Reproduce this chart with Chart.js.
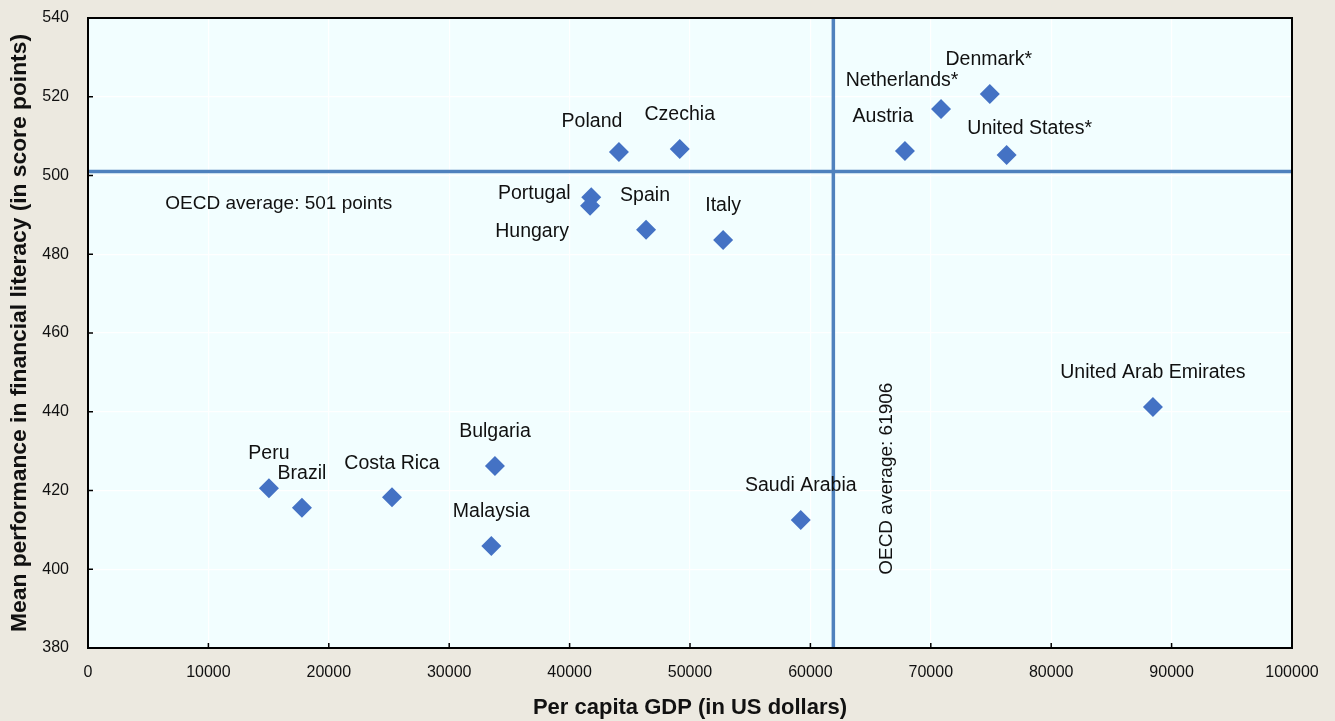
<!DOCTYPE html>
<html>
<head>
<meta charset="utf-8">
<script src="https://cdn.jsdelivr.net/npm/chart.js@4/dist/chart.umd.min.js"></script>
<style>
  html, body { margin: 0; padding: 0; background: #ECE9E0; }
  #wrap { width: 1335px; height: 721px; }
</style>
</head>
<body>
<div id="wrap"><canvas id="chart"></canvas></div>
<script>
// data
const countries = ['Peru', 'Brazil', 'Costa Rica', 'Bulgaria', 'Malaysia', 'Saudi Arabia', 'United Arab Emirates',
    'Poland', 'Czechia', 'Portugal', 'Hungary', 'Spain', 'Italy', 'Austria', 'Netherlands*', 'Denmark*', 'United States*'];
const gdp = [15030, 17770, 25250, 33800, 33500, 59200, 88450,
    44100, 49150, 41800, 41700, 46350, 52750, 67850, 70850, 74900, 76300];
const scores = [420.6, 415.6, 418.3, 426.2, 405.9, 412.5, 441.2,
    506.0, 506.7, 494.5, 492.3, 486.2, 483.6, 506.2, 516.9, 520.7, 505.2];
const oecdAvgGdp = 61906;
const oecdAvgScore = 501;
const xTicks = [0, 10000, 20000, 30000, 40000, 50000, 60000, 70000, 80000, 90000, 100000];
const yTicks = [380, 400, 420, 440, 460, 480, 500, 520, 540];

// label offsets in pixels from each marker (same order as countries)
const labelOffsets = [
    [0, -35], [0, -34], [0, -34], [0, -34], [0, -34], [0, -34], [0, -34],
    [-27, -30], [0, -34], [-57, -4], [-58, 26], [-1, -34], [0, -34],
    [-22, -34], [-39, -28], [-1, -34], [23, -26]
];

const FONT = '"Liberation Sans", Arial, sans-serif';
const BLUE = '#4472C4';
const LINE_BLUE = '#4F81BD';

const background = {
    id: 'background',
    beforeDraw(chart) {
        const { ctx, chartArea: a } = chart;
        ctx.save();
        ctx.fillStyle = '#ECE9E0';
        ctx.fillRect(0, 0, chart.width, chart.height);
        ctx.fillStyle = '#F2FEFF';
        ctx.fillRect(a.left, a.top, a.right - a.left, a.bottom - a.top);
        ctx.restore();
    },
    afterDraw(chart) {
        const { ctx, chartArea: a } = chart;
        ctx.save();
        ctx.strokeStyle = '#000';
        ctx.lineWidth = 2;
        ctx.strokeRect(a.left, a.top, a.right - a.left, a.bottom - a.top);
        // short inward tick marks
        ctx.lineWidth = 1.5;
        ctx.beginPath();
        const xs = chart.scales.x, ys = chart.scales.y;
        xTicks.forEach(v => {
            const px = xs.getPixelForValue(v);
            ctx.moveTo(px, a.bottom); ctx.lineTo(px, a.bottom - 5);
        });
        yTicks.forEach(v => {
            const py = ys.getPixelForValue(v);
            ctx.moveTo(a.left, py); ctx.lineTo(a.left + 5, py);
        });
        ctx.stroke();
        ctx.restore();
    }
};

const pointLabels = {
    id: 'pointLabels',
    afterDatasetsDraw(chart) {
        const { ctx } = chart;
        const meta = chart.getDatasetMeta(2);
        const xs = chart.scales.x, ys = chart.scales.y;
        ctx.save();
        ctx.font = '19.5px ' + FONT;
        ctx.fillStyle = '#111';
        ctx.textAlign = 'center';
        ctx.textBaseline = 'middle';
        meta.data.forEach((pt, i) => {
            const [dx, dy] = labelOffsets[i];
            ctx.fillText(countries[i], pt.x + dx, pt.y + dy);
        });
        // OECD average annotations
        ctx.font = '19px ' + FONT;
        ctx.fillText('OECD average: ' + oecdAvgScore + ' points', xs.getPixelForValue(15850), ys.getPixelForValue(oecdAvgScore) + 32);
        ctx.translate(xs.getPixelForValue(oecdAvgGdp) + 53, ys.getPixelForValue(423));
        ctx.rotate(-Math.PI / 2);
        ctx.fillText('OECD average: ' + oecdAvgGdp, 0, 0);
        ctx.restore();
    }
};

const ctx = document.getElementById('chart').getContext('2d');
new Chart(ctx, {
    type: 'scatter',
    data: {
        datasets: [
            {
                type: 'line',
                data: [{ x: 0, y: oecdAvgScore }, { x: 100000, y: oecdAvgScore }],
                borderColor: LINE_BLUE,
                borderWidth: 3.5,
                pointRadius: 0,
                order: 3
            },
            {
                type: 'line',
                data: [{ x: oecdAvgGdp, y: 380 }, { x: oecdAvgGdp, y: 540 }],
                borderColor: LINE_BLUE,
                borderWidth: 3.5,
                pointRadius: 0,
                order: 2
            },
            {
                data: gdp.map((g, i) => ({ x: g, y: scores[i] })),
                pointStyle: 'rectRot',
                pointRadius: 10,
                pointBackgroundColor: BLUE,
                pointBorderColor: BLUE,
                pointBorderWidth: 0,
                order: 1
            }
        ]
    },
    options: {
        responsive: true,
        maintainAspectRatio: false,
        animation: false,
        layout: { padding: { top: 18, right: 43, left: 0, bottom: 0 } },
        plugins: { legend: { display: false }, tooltip: { enabled: false } },
        scales: {
            x: {
                type: 'linear',
                min: 0,
                max: 100000,
                afterBuildTicks: s => { s.ticks = xTicks.map(v => ({ value: v })); },
                afterFit: s => { s.height = 73; s.paddingLeft = 0; s.paddingRight = 0; },
                grid: { color: '#FFFFFF', lineWidth: 1.2, drawTicks: false },
                border: { display: false },
                ticks: {
                    padding: 15, color: '#111', maxRotation: 0,
                    font: { family: FONT, size: 16 },
                    callback: v => String(v)
                },
                title: {
                    display: true,
                    text: 'Per capita GDP (in US dollars)',
                    color: '#111',
                    font: { family: FONT, size: 22, weight: 'bold' },
                    padding: { top: 0, bottom: 0 }
                }
            },
            y: {
                type: 'linear',
                min: 380,
                max: 540,
                afterBuildTicks: s => { s.ticks = yTicks.map(v => ({ value: v })); },
                afterFit: s => { s.width = 88; s.paddingTop = 0; s.paddingBottom = 0; },
                grid: { color: '#FFFFFF', lineWidth: 1.2, drawTicks: false },
                border: { display: false },
                ticks: { padding: 19, color: '#111', font: { family: FONT, size: 16 } },
                title: {
                    display: true,
                    text: 'Mean performance in financial literacy (in score points)',
                    color: '#111',
                    font: { family: FONT, size: 22.8, weight: 'bold' },
                    padding: { top: 6, bottom: 0 }
                }
            }
        }
    },
    plugins: [background, pointLabels]
});
</script>
</body>
</html>
